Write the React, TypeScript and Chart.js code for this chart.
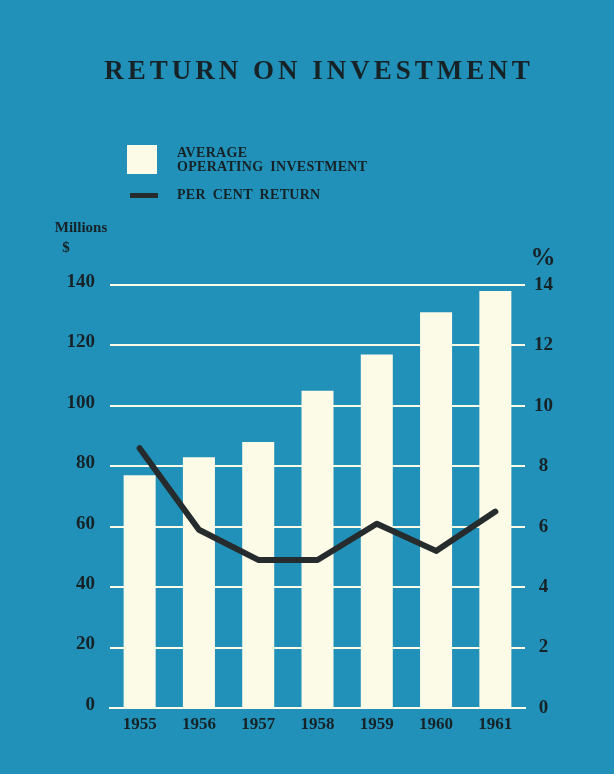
import React, { useEffect, useRef } from "react";
import { Chart, registerables } from "chart.js";

Chart.register(...registerables);

const years = ["1955", "1956", "1957", "1958", "1959", "1960", "1961"];
const investment = [77, 83, 88, 105, 117, 131, 138];
const returnPct = [8.6, 5.9, 4.9, 4.9, 6.1, 5.2, 6.5];
const leftTicks = [0, 20, 40, 60, 80, 100, 120, 140];
const rightTicks = [0, 2, 4, 6, 8, 10, 12, 14];

const BG = "#2191b9";
const CREAM = "#fcfbe8";
const INK = "#162226";
const LINE = "#262b2d";
const SERIF = "'Liberation Serif', 'DejaVu Serif', serif";

const decor = {
  id: "decor",
  beforeDraw(chart: any) {
    const ctx = chart.ctx;
    ctx.save();
    ctx.fillStyle = BG;
    ctx.fillRect(0, 0, chart.width, chart.height);
    ctx.restore();
  },
  afterDraw(chart: any) {
    const ctx = chart.ctx;
    ctx.save();
    ctx.fillStyle = INK;
    ctx.textBaseline = "middle";
    // title
    ctx.font = `bold 27px ${SERIF}`;
    (ctx as any).letterSpacing = "4px";
    ctx.textAlign = "center";
    ctx.fillText("RETURN ON INVESTMENT", 319, 72);
    // legend
    ctx.fillStyle = CREAM;
    ctx.fillRect(127, 145, 30, 29);
    ctx.fillStyle = LINE;
    ctx.fillRect(130, 193, 28, 5);
    ctx.fillStyle = INK;
    ctx.textAlign = "left";
    ctx.font = `bold 14px ${SERIF}`;
    (ctx as any).letterSpacing = "0.3px";
    (ctx as any).wordSpacing = "3px";
    ctx.fillText("AVERAGE", 177, 153);
    ctx.fillText("OPERATING INVESTMENT", 177, 167);
    ctx.fillText("PER CENT RETURN", 177, 195);
    (ctx as any).letterSpacing = "0px";
    (ctx as any).wordSpacing = "0px";
    // axis titles
    ctx.font = `bold 15px ${SERIF}`;
    ctx.textAlign = "center";
    ctx.fillText("Millions", 81, 228);
    ctx.fillText("$", 66, 248);
    ctx.font = `bold 25px ${SERIF}`;
    ctx.fillText("%", 543, 259);
    ctx.restore();
  },
};

export default function App() {
  const ref = useRef<HTMLCanvasElement | null>(null);
  useEffect(() => {
    document.body.style.margin = "0";
    const chart = new Chart(ref.current as HTMLCanvasElement, {
      type: "bar",
      data: {
        labels: years,
        datasets: [
          {
            type: "bar",
            label: "AVERAGE OPERATING INVESTMENT",
            data: investment,
            backgroundColor: CREAM,
            borderWidth: 0,
            barPercentage: 0.54,
            categoryPercentage: 1,
            yAxisID: "y",
            order: 2,
          },
          {
            type: "line",
            label: "PER CENT RETURN",
            data: returnPct,
            borderColor: LINE,
            borderWidth: 6,
            pointRadius: 0,
            tension: 0,
            borderJoinStyle: "round",
            borderCapStyle: "round",
            yAxisID: "y1",
            order: 1,
          } as any,
        ],
      },
      options: {
        responsive: false,
        animation: false,
        layout: { padding: { left: 0, right: 0, top: 285, bottom: 36 } },
        plugins: {
          legend: { display: false },
          title: { display: false },
          tooltip: { enabled: false },
        },
        scales: {
          x: {
            grid: { display: false, drawTicks: false },
            border: { display: true, color: CREAM, width: 2 },
            ticks: {
              color: INK,
              font: { family: SERIF, size: 17, weight: "bold" },
              padding: 6,
              maxRotation: 0,
            },
            afterFit(scale: any) {
              scale.height = 30;
            },
          },
          y: {
            position: "left",
            min: 0,
            max: 140,
            afterBuildTicks(scale: any) {
              scale.ticks = leftTicks.map((v) => ({ value: v }));
            },
            grid: { color: CREAM, lineWidth: 2, drawTicks: false },
            border: { display: false },
            ticks: {
              color: INK,
              font: { family: SERIF, size: 19, weight: "bold" },
              padding: 15,
              labelOffset: -3,
            },
            afterFit(scale: any) {
              scale.width = 110;
            },
          },
          y1: {
            position: "right",
            min: 0,
            max: 14,
            afterBuildTicks(scale: any) {
              scale.ticks = rightTicks.map((v) => ({ value: v }));
            },
            grid: { display: false, drawTicks: false },
            border: { display: false },
            ticks: {
              color: INK,
              font: { family: SERIF, size: 19, weight: "bold" },
              padding: 9,
              crossAlign: "center",
            },
            afterFit(scale: any) {
              scale.width = 89;
            },
          },
        },
      },
      plugins: [decor],
    } as any);
    return () => chart.destroy();
  }, []);
  return (
    <div style={{ width: 614, height: 774, background: BG }}>
      <canvas ref={ref} width={614} height={774} style={{ display: "block" }} />
    </div>
  );
}
